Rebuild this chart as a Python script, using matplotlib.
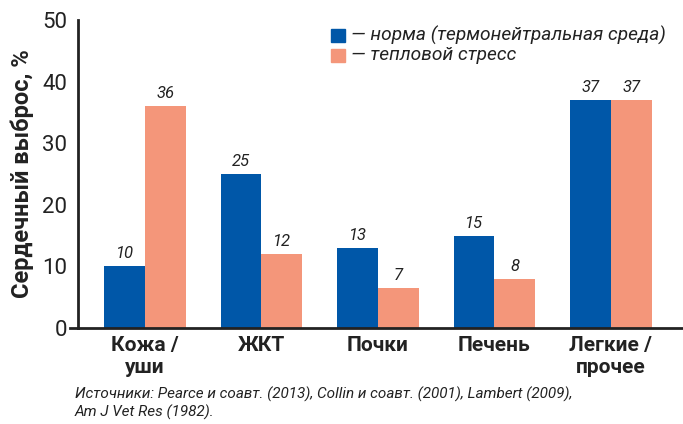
import matplotlib
matplotlib.use("Agg")
import matplotlib.pyplot as plt
import numpy as np
from matplotlib.patches import Rectangle

categories = ["Кожа /\nуши", "ЖКТ", "Почки", "Печень", "Легкие /\nпрочее"]
norm_values = [10, 25, 13, 15, 37]
stress_values = [36, 12, 6.5, 8, 37]
norm_labels = ["10", "25", "13", "15", "37"]
stress_labels = ["36", "12", "7", "8", "37"]
series_names = ["— норма (термонейтральная среда)", "— тепловой стресс"]
yticks = [0, 10, 20, 30, 40, 50]
source = "Источники: Pearce и соавт. (2013), Collin и соавт. (2001), Lambert (2009),\nAm J Vet Res (1982)."

BLUE = "#0057a8"
SALMON = "#f4967a"
TXT = "#222222"

plt.rcParams['font.family'] = ['Roboto', 'DejaVu Sans']

W, H = 683, 424
fig = plt.figure(figsize=(W/100, H/100), dpi=100)
ax = fig.add_axes([78/W, 1-328/H, (683-78)/W, (328-20)/H])

x = np.arange(len(categories))
bw = 0.35
ax.bar(x - bw/2, norm_values, bw, color=BLUE, zorder=2)
ax.bar(x + bw/2, stress_values, bw, color=SALMON, zorder=2)

for i in range(len(categories)):
    ax.text(x[i] - bw/2, norm_values[i] + 0.8, norm_labels[i], ha='center', va='bottom',
            fontsize=12, style='italic', color=TXT)
    ax.text(x[i] + bw/2, stress_values[i] + 0.8, stress_labels[i], ha='center', va='bottom',
            fontsize=12, style='italic', color=TXT)

ax.set_xlim(-0.575, 4.62)
ax.set_ylim(0, 50)
ax.set_yticks(yticks)
ax.set_yticklabels([str(t) for t in yticks], fontsize=16, color=TXT)
ax.tick_params(axis='y', length=0, pad=8)
ax.set_xticks(x)
ax.set_xticklabels(categories, fontsize=15, fontweight='bold', color=TXT, linespacing=1.2)
ax.tick_params(axis='x', length=0, pad=6)
for lbl in ax.get_xticklabels():
    lbl.set_va('top')

for s in ['top', 'right']:
    ax.spines[s].set_visible(False)
ax.spines['left'].set_linewidth(2)
ax.spines['bottom'].set_linewidth(2)
ax.spines['left'].set_color(TXT)
ax.spines['bottom'].set_color(TXT)
# small tick at zero
ax.plot([-0.575 - 0.07, -0.575], [0, 0], color=TXT, lw=2, clip_on=False)

ax.set_ylabel("Сердечный выброс, %", fontsize=17, fontweight='bold', color=TXT, labelpad=6)

# legend
for j, (c, name) in enumerate(zip([BLUE, SALMON], series_names)):
    y0 = 35 + j * 20
    fig.patches.append(Rectangle((331/W, 1-(y0+7)/H), 14/W, 13/H, transform=fig.transFigure,
                                 color=c))
    fig.text(351/W, 1-y0/H, name, fontsize=13.8, style='italic', color=TXT, va='center', ha='left')

fig.text(75/W, 1-387/H, source, fontsize=11, style='italic', color=TXT, va='top', ha='left',
         linespacing=1.2)

fig.savefig("out.png", dpi=100)
